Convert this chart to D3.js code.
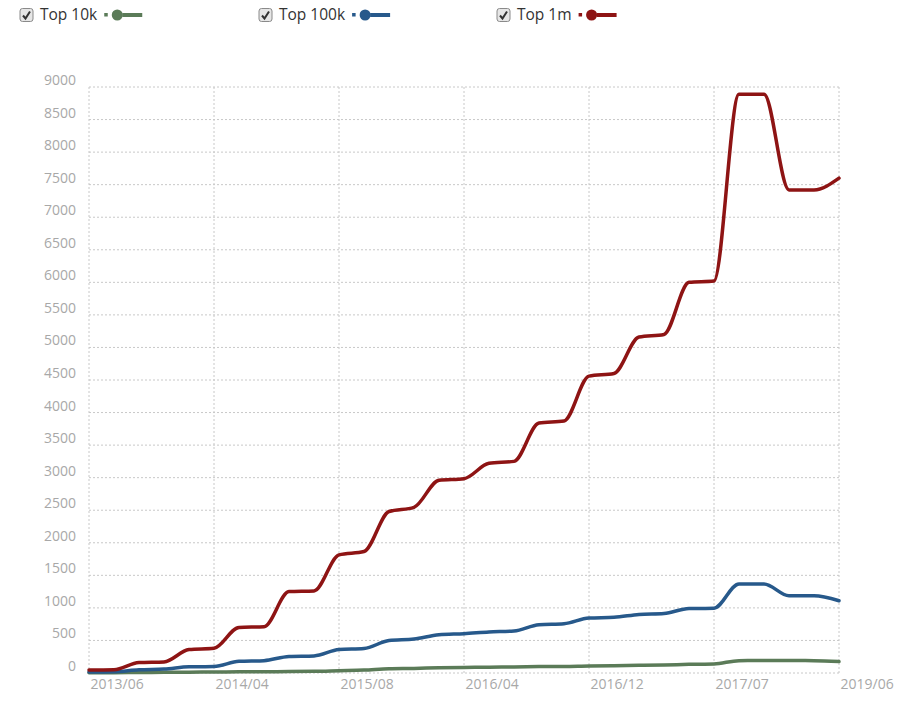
<!DOCTYPE html>
<html>
<head>
<meta charset="utf-8">
<script src="https://cdn.jsdelivr.net/npm/d3@7"></script>
<style>
  body { margin: 0; background: #fff; }
  text { font-family: "Open Sans", sans-serif; }
</style>
</head>
<body>
<div id="chart"></div>
<script>
// x tick labels, one every 5 data points
let tickLabels = ["2013/06", "2014/04", "2015/08", "2016/04", "2016/12", "2017/07", "2019/06"];
let tickEvery = 5;

let seriesNames = ["Top 10k", "Top 100k", "Top 1m"];
let seriesColors = ["#5b7b58", "#27598b", "#8e1414"];

let top10k = [5, 5, 8, 10, 12, 15, 18, 20, 22, 25, 35, 45, 65, 70, 80, 85,
    90, 92, 98, 100, 108, 112, 118, 122, 133, 138, 190, 192, 192, 190, 175];
let top100k = [15, 20, 50, 60, 95, 100, 180, 190, 255, 262, 360, 375, 500, 522, 588, 604,
    630, 645, 742, 757, 845, 855, 900, 914, 990, 995, 1367, 1367, 1187, 1187, 1110];
let top1m = [45, 50, 160, 170, 360, 380, 700, 710, 1250, 1260, 1815, 1865, 2480, 2545, 2960, 2985,
    3220, 3250, 3840, 3870, 4560, 4600, 5160, 5200, 6000, 6020, 8890, 8890, 7420, 7420, 7600];

let yTicks = d3.range(0, 9001, 500);

var width = 903, height = 708;
var svg = d3.select("#chart").append("svg")
    .attr("width", width)
    .attr("height", height);

var x = d3.scaleLinear()
    .domain([0, top1m.length - 1])
    .range([89, 839]);

var y = d3.scaleLinear()
    .domain([0, 9000])
    .range([673, 87]);

// grid
var xTickVals = tickLabels.map((d, i) => i * tickEvery);

svg.append("g")
    .selectAll("line")
    .data(yTicks)
    .enter().append("line")
    .attr("x1", x(0)).attr("x2", x(30))
    .attr("y1", d => y(d)).attr("y2", d => y(d))
    .attr("stroke", "#c8c8c8")
    .attr("stroke-dasharray", "2,2");

svg.append("g")
    .selectAll("line")
    .data(xTickVals)
    .enter().append("line")
    .attr("x1", d => x(d)).attr("x2", d => x(d))
    .attr("y1", y(0)).attr("y2", y(9000))
    .attr("stroke", "#c8c8c8")
    .attr("stroke-dasharray", "2,2");

// y labels sit just above their grid line
var yAxis = d3.axisLeft(y).tickValues(yTicks).tickFormat(d3.format("d"))
    .tickSize(0).tickPadding(0);
var gy = svg.append("g").attr("transform", "translate(76,-7)").call(yAxis);
gy.select(".domain").remove();
gy.selectAll("text")
    .attr("fill", "#a8a8a8")
    .style("font-size", "14px")
    .style("font-family", "'Open Sans', sans-serif");

var xAxis = d3.axisBottom(x).tickValues(xTickVals)
    .tickFormat((d, i) => tickLabels[i]).tickSize(0).tickPadding(0);
var gx = svg.append("g").attr("transform", "translate(0,679)").call(xAxis);
gx.select(".domain").remove();
gx.selectAll("text")
    .attr("text-anchor", "start")
    .attr("dx", 1)
    .attr("fill", "#a8a8a8")
    .style("font-size", "14px")
    .style("font-family", "'Open Sans', sans-serif");

// lines
var line = d3.line()
    .x((d, i) => x(i))
    .y(d => y(d))
    .curve(d3.curveMonotoneX);

[top10k, top100k, top1m].forEach(function(s, k) {
    svg.append("path")
        .datum(s)
        .attr("d", line)
        .attr("fill", "none")
        .attr("stroke", seriesColors[k])
        .attr("stroke-width", 3.5)
        .attr("stroke-linejoin", "round")
        .attr("stroke-linecap", "round");
});

// legend
var legendX = [20, 259, 497];
var leg = svg.append("g").selectAll("g")
    .data(seriesNames)
    .enter().append("g")
    .attr("transform", (d, i) => "translate(" + legendX[i] + ",15)");

leg.append("rect")
    .attr("x", 0).attr("y", -6.5)
    .attr("width", 13).attr("height", 13)
    .attr("rx", 2.5)
    .attr("fill", "#e6e6e6")
    .attr("stroke", "#8a8a8a");
leg.append("path")
    .attr("d", "M3,0.5 L5.5,3.5 L10,-3.5")
    .attr("fill", "none")
    .attr("stroke", "#333")
    .attr("stroke-width", 2);

leg.append("text")
    .attr("x", 20).attr("y", 0)
    .attr("dy", "0.35em")
    .attr("fill", "#333")
    .style("font-size", "15.5px")
    .text(d => d);

leg.each(function(d, i) {
    var g = d3.select(this);
    var tw = g.select("text").node().getComputedTextLength();
    var sx = 20 + tw + 7;
    g.append("rect")
        .attr("x", sx).attr("y", -2)
        .attr("width", 3.5).attr("height", 3.5)
        .attr("fill", seriesColors[i]);
    g.append("circle")
        .attr("cx", sx + 13).attr("cy", 0).attr("r", 5.5)
        .attr("fill", seriesColors[i]);
    g.append("line")
        .attr("x1", sx + 18).attr("x2", sx + 38)
        .attr("y1", 0).attr("y2", 0)
        .attr("stroke", seriesColors[i])
        .attr("stroke-width", 4);
});
</script>
</body>
</html>
